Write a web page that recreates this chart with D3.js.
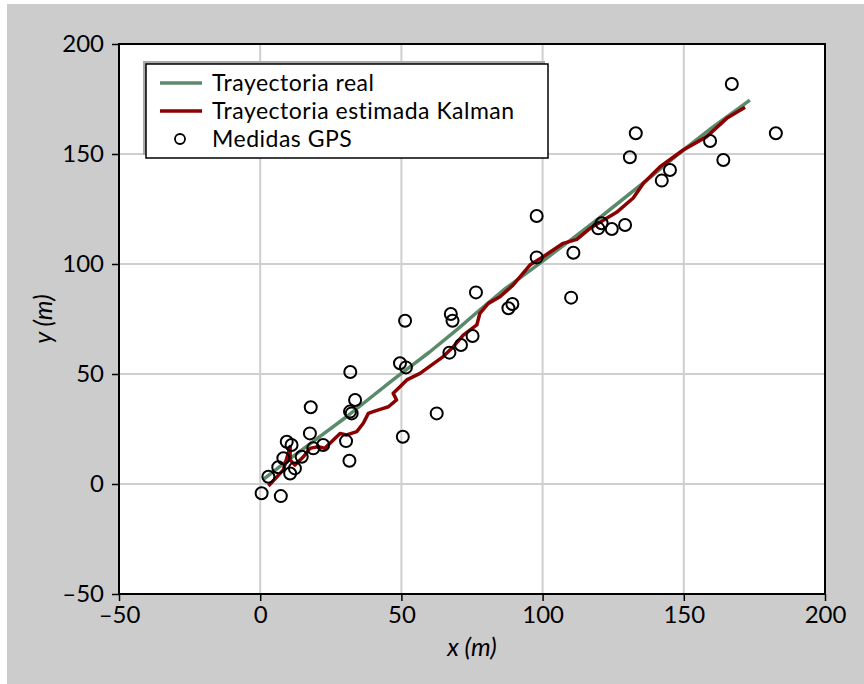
<!DOCTYPE html>
<html><head><meta charset="utf-8">
<script src="https://cdn.jsdelivr.net/npm/d3@7"></script>
<style>body{margin:0;background:#fff}svg{display:block}</style>
</head><body><svg id="c" width="864" height="684"></svg>
<script>
// True trajectory [x, y]
const realX = [1, 10, 20, 30, 47, 50, 60, 70, 77, 87, 99, 110, 120, 137, 149, 160, 173.4];
const realY = [2, 11, 20.5, 30, 47.3, 50.3, 60, 70.5, 78.3, 89, 100.3, 111, 120.8, 138.2, 151, 162, 174.5];
// Kalman estimate
const kalX = [2.9, 8.2, 10.6, 10.6, 12.3, 15.3, 17.6, 20.6, 22.9, 24.7, 28.3, 30.6, 34.2, 36.5, 38.3, 40, 43.6, 45.4, 48.3, 47.1, 49.5, 51.9, 56.6, 64.8, 68.4, 71.9, 76.7, 77.8, 80.8, 84.9, 89.6, 95.5, 100.2, 107.3, 112.1, 116.8, 126.2, 132.1, 135.7, 141.6, 149.8, 158.1, 165.2, 171.7];
const kalY = [-0.9, 6.4, 17, 10.9, 8.6, 12.4, 16.2, 17, 16.2, 18.5, 23, 22.3, 23.8, 27.6, 32.1, 32.9, 34.4, 35.1, 38.2, 41.2, 44.2, 47.3, 50.3, 57.9, 62.4, 67.7, 72.3, 77.6, 82.1, 85.1, 90.5, 99.5, 103.3, 109.4, 111.2, 116.2, 123.5, 130, 136.7, 144.2, 151.8, 157.9, 166.2, 171.2];
// GPS measurements
const gpsX = [0.5, 2.9, 7.3, 6.4, 8.2, 9.4, 11.1, 10.6, 12.3, 14.7, 17.6, 18.8, 22.3, 17.9, 30.4, 31.6, 31.8, 32.4, 33.6, 31.9, 49.5, 51.6, 51.3, 50.5, 62.5, 67, 67.5, 68.1, 71.1, 75.2, 76.4, 87.9, 89.3, 97.9, 97.9, 110.1, 110.9, 119.7, 120.9, 124.5, 129.2, 130.9, 133, 142.2, 145.1, 159.3, 164, 167, 182.6];
const gpsY = [-4.2, 3.3, -5.5, 7.6, 11.7, 19.2, 17.7, 4.8, 7.1, 12.4, 23, 16.2, 17.7, 34.9, 19.5, 10.6, 32.9, 32.1, 38.2, 50.9, 54.9, 53, 74.2, 21.5, 32.1, 59.7, 77.3, 74.2, 63.2, 67.3, 87.1, 79.9, 81.8, 121.8, 103, 84.7, 105.1, 116.2, 118.5, 115.9, 117.7, 148.5, 159.4, 137.9, 142.7, 155.9, 147.3, 181.8, 159.4];
const xTicks = [-50, 0, 50, 100, 150, 200];
const yTicks = [-50, 0, 50, 100, 150, 200];
const legendLabels = ["Trayectoria real", "Trayectoria estimada Kalman", "Medidas GPS"];

const FONT = "Lato, 'Open Sans', sans-serif";
const svg = d3.select("#c");
svg.append("rect").attr("x", 7).attr("y", 4).attr("width", 857).attr("height", 680).attr("fill", "#cccccc");

const L = 119, R = 825, T = 44, B = 594;
const x = d3.scaleLinear().domain([-50, 200]).range([L, R]);
const y = d3.scaleLinear().domain([-50, 200]).range([B, T]);
const fmt = d => (d < 0 ? "\u2013" + Math.abs(d) : String(d));

svg.append("rect").attr("x", L).attr("y", T).attr("width", R - L).attr("height", B - T).attr("fill", "#fff");

// grid
const g = svg.append("g");
g.selectAll("line.gx").data(xTicks.slice(1, -1)).join("line")
  .attr("x1", d => x(d)).attr("x2", d => x(d)).attr("y1", T).attr("y2", B)
  .attr("stroke", "#cfcfcf").attr("stroke-width", 2);
g.selectAll("line.gy").data(yTicks.slice(1, -1)).join("line")
  .attr("y1", d => y(d)).attr("y2", d => y(d)).attr("x1", L).attr("x2", R)
  .attr("stroke", "#cfcfcf").attr("stroke-width", 2);

// axes
const xAxis = svg.append("g").attr("transform", `translate(0,${B})`)
  .call(d3.axisBottom(x).tickValues(xTicks).tickFormat(fmt).tickSize(7).tickPadding(4));
const yAxis = svg.append("g").attr("transform", `translate(${L},0)`)
  .call(d3.axisLeft(y).tickValues(yTicks).tickFormat(fmt).tickSize(7).tickPadding(8));
[xAxis, yAxis].forEach(a => {
  a.select(".domain").remove();
  a.selectAll("line").attr("stroke", "#000").attr("stroke-width", 1.5);
  a.selectAll("text").attr("font-family", FONT).attr("font-size", 24).attr("fill", "#000");
});
xAxis.selectAll("text").attr("dy", "0.75em");

const clip = svg.append("clipPath").attr("id", "pc").append("rect")
  .attr("x", L).attr("y", T).attr("width", R - L).attr("height", B - T);
const plot = svg.append("g").attr("clip-path", "url(#pc)");

const line = d3.line().x(d => x(d[0])).y(d => y(d[1]));
const realPts = realX.map((v, i) => [v, realY[i]]);
const kalPts = kalX.map((v, i) => [v, kalY[i]]);
plot.append("path").datum(realPts).attr("d", line).attr("fill", "none")
  .attr("stroke", "#5b8a6b").attr("stroke-width", 3.5).attr("stroke-linejoin", "round");
plot.append("path").datum(kalPts).attr("d", line).attr("fill", "none")
  .attr("stroke", "#8b0000").attr("stroke-width", 3.5).attr("stroke-linejoin", "round");
plot.selectAll("circle").data(gpsX.map((v, i) => [v, gpsY[i]])).join("circle")
  .attr("cx", d => x(d[0])).attr("cy", d => y(d[1])).attr("r", 6)
  .attr("fill", "none").attr("stroke", "#000").attr("stroke-width", 2);

// frame
svg.append("rect").attr("x", L).attr("y", T).attr("width", R - L).attr("height", B - T)
  .attr("fill", "none").attr("stroke", "#000").attr("stroke-width", 2);

// axis labels
const xl = svg.append("text").attr("x", (L + R) / 2).attr("y", 656).attr("text-anchor", "middle")
  .attr("font-family", FONT).attr("font-size", 25).attr("font-style", "italic");
xl.text("x (m)");
const yl = svg.append("text").attr("transform", `translate(52,${(T + B) / 2}) rotate(-90)`)
  .attr("text-anchor", "middle").attr("font-family", FONT).attr("font-size", 25).attr("font-style", "italic");
yl.text("y (m)");

// legend
const lg = svg.append("g");
lg.append("rect").attr("x", 143).attr("y", 61).attr("width", 402).attr("height", 94).attr("fill", "#aaa");
lg.append("rect").attr("x", 146).attr("y", 64).attr("width", 402).attr("height", 94)
  .attr("fill", "#fff").attr("stroke", "#000").attr("stroke-width", 1.5);
const rowsY = [83, 111, 139];
lg.append("line").attr("x1", 160).attr("x2", 202).attr("y1", rowsY[0]).attr("y2", rowsY[0]).attr("stroke", "#5b8a6b").attr("stroke-width", 3.5);
lg.append("line").attr("x1", 160).attr("x2", 202).attr("y1", rowsY[1]).attr("y2", rowsY[1]).attr("stroke", "#8b0000").attr("stroke-width", 3.5);
lg.append("circle").attr("cx", 180).attr("cy", rowsY[2]).attr("r", 5).attr("fill", "none").attr("stroke", "#000").attr("stroke-width", 1.8);
lg.selectAll("text").data(legendLabels).join("text")
  .attr("x", 212).attr("y", (d, i) => rowsY[i]).attr("dy", "0.35em")
  .attr("font-family", FONT).attr("font-size", 23).attr("letter-spacing", 0.5).attr("fill", "#000").text(d => d);
</script></body></html>
